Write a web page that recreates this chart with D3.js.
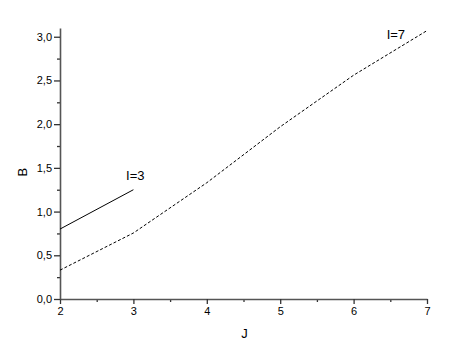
<!DOCTYPE html>
<html>
<head>
<meta charset="utf-8">
<script src="https://cdn.jsdelivr.net/npm/d3@7"></script>
<style>
  body { margin: 0; background: #fff; }
  text { font-family: "Liberation Sans", Arial, sans-serif; }
</style>
</head>
<body>
<div id="chart"></div>
<script>
const width = 462;
const height = 344;
const margin = { top: 28, right: 35, bottom: 45, left: 60 };
const innerwidth = width - margin.left - margin.right;
const innerheight = height - margin.top - margin.bottom;

// series
const jI3 = [2, 3];
const bI3 = [0.80, 1.25];
const jI7 = [2, 3, 4, 5, 6, 7];
const bI7 = [0.33, 0.755, 1.33, 1.97, 2.56, 3.07];

const xTicks = [2, 3, 4, 5, 6, 7];
const yTicks = [0, 0.5, 1.0, 1.5, 2.0, 2.5, 3.0];

const x = d3.scaleLinear().domain([2, 7]).range([0, innerwidth]);
const y = d3.scaleLinear().domain([0, 3.1]).range([innerheight, 0]);

const svg = d3.select("#chart").append("svg")
    .attr("width", width)
    .attr("height", height)
    .append("g")
    .attr("transform", "translate(" + margin.left + "," + margin.top + ")");

const fmt = function (d) { return d3.format(".1f")(d).replace(".", ","); };

// minor ticks
svg.append("g")
    .attr("transform", "translate(0," + innerheight + ")")
    .call(d3.axisBottom(x).tickValues([2.5, 3.5, 4.5, 5.5, 6.5]).tickSize(3).tickFormat(""))
    .call(g => g.select(".domain").remove());
svg.append("g")
    .call(d3.axisLeft(y).tickValues([0.25, 0.75, 1.25, 1.75, 2.25, 2.75]).tickSize(3).tickFormat(""))
    .call(g => g.select(".domain").remove());

const xAxis = svg.append("g")
    .attr("transform", "translate(0," + innerheight + ")")
    .call(d3.axisBottom(x).tickValues(xTicks).tickSize(5).tickSizeOuter(0).tickPadding(3).tickFormat(d3.format("d")));

const yAxis = svg.append("g")
    .call(d3.axisLeft(y).tickValues(yTicks).tickSize(6).tickSizeOuter(0).tickPadding(2).tickFormat(fmt));

svg.selectAll(".tick line").attr("stroke", "#333").attr("stroke-width", 1.3);
svg.selectAll(".domain").attr("stroke", "#555").attr("stroke-width", 1.6);
svg.selectAll(".tick text").attr("fill", "#000").style("font-size", "11px");

// axis titles
svg.append("text")
    .attr("x", x(4.5) + 1)
    .attr("y", innerheight + 39)
    .attr("text-anchor", "middle")
    .style("font-size", "13px")
    .text("J");

svg.append("text")
    .attr("transform", "rotate(-90)")
    .attr("x", -(y(1.45)))
    .attr("y", -33)
    .attr("text-anchor", "middle")
    .style("font-size", "13px")
    .text("B");

const line = d3.line()
    .x(function (d) { return x(d[0]); })
    .y(function (d) { return y(d[1]); });

svg.append("path")
    .datum(jI3.map(function (j, i) { return [j, bI3[i]]; }))
    .attr("d", line)
    .attr("fill", "none")
    .attr("stroke", "#000")
    .attr("stroke-width", 1);

svg.append("path")
    .datum(jI7.map(function (j, i) { return [j, bI7[i]]; }))
    .attr("d", line)
    .attr("fill", "none")
    .attr("stroke", "#000")
    .attr("stroke-width", 1)
    .attr("stroke-dasharray", "3,2");

// curve labels
svg.append("text")
    .attr("x", x(2.9))
    .attr("y", y(1.36))
    .style("font-size", "13px")
    .text("I=3");

svg.append("text")
    .attr("x", x(6.45))
    .attr("y", y(2.98))
    .style("font-size", "13px")
    .text("I=7");
</script>
</body>
</html>
